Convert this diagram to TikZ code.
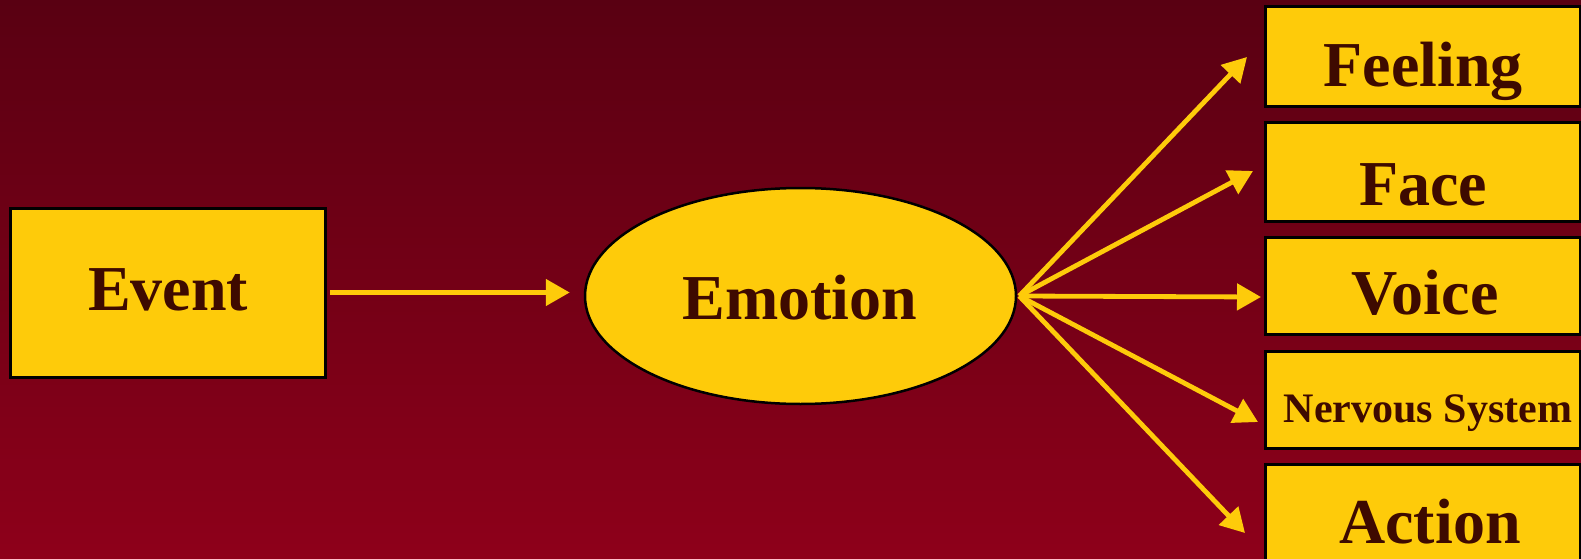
\documentclass[tikz,border=0pt]{standalone}
\usepackage{fontspec}
\setmainfont{Liberation Serif}
\usetikzlibrary{shapes.geometric,arrows.meta,calc}
\definecolor{bgtop}{HTML}{590012}
\definecolor{bgbot}{HTML}{8E001A}
\definecolor{boxyel}{HTML}{FECB0A}
\definecolor{txtbrown}{HTML}{3E0A00}
\tikzset{
  boxnode/.style={draw=black, line width=3pt, fill=boxyel, rectangle, inner sep=0pt},
  ovalnode/.style={draw=black, line width=2.5pt, fill=boxyel, ellipse, inner sep=0pt},
  bigtxt/.style={text=txtbrown, font=\fontsize{64}{70}\selectfont\bfseries, inner sep=0pt, anchor=base},
  smalltxt/.style={text=txtbrown, font=\fontsize{42}{48}\selectfont\bfseries, inner sep=0pt, anchor=base},
  conn/.style={draw=boxyel, line width=4.8pt, -{Triangle[length=24pt,width=26pt]}}
}
\begin{document}
\begin{tikzpicture}[x=1pt,y=-1pt]
\useasboundingbox (0,0) rectangle (1581,559);
\clip (0,0) rectangle (1581,559);
\shade[top color=bgtop, bottom color=bgbot] (0,0) rectangle (1581,559);
% nodes
\node[boxnode, minimum width=315pt, minimum height=169pt] (evt) at (168,292.5) {};
\node[bigtxt] (evtt) at (168,310.5) {Event};
\node[ovalnode, minimum width=431pt, minimum height=216pt] (emo) at (800.5,296) {};
\node[bigtxt] (emot) at (800,319) {Emotion};
\node[boxnode, minimum width=315pt, minimum height=100pt] (feel) at (1422.5,57) {};
\node[bigtxt] (feelt) at (1423,87) {Feeling};
\node[boxnode, minimum width=315pt, minimum height=98pt] (face) at (1422.5,172) {};
\node[bigtxt] (facet) at (1423,205) {Face};
\node[boxnode, minimum width=315pt, minimum height=97pt] (voice) at (1422.5,285.5) {};
\node[bigtxt] (voicet) at (1425,314) {Voice};
\node[boxnode, minimum width=315pt, minimum height=97pt] (nerv) at (1422.5,399.5) {};
\node[smalltxt] (nervt) at (1428,422) {Nervous System};
\node[boxnode, minimum width=315pt, minimum height=116pt] (act) at (1422.5,522) {};
\node[bigtxt] (actt) at (1430,543) {Action};
% arrow tips
\coordinate (tfeel) at (1247,57);
\coordinate (tface) at (1253,171);
\coordinate (tvoice) at (1261,297);
\coordinate (tnerv) at (1258,422);
\coordinate (tact) at (1245,533);
\coordinate (src) at ($(emo.east)+(2,0)$);
% connectors
\draw[conn, shorten <=3pt, shorten >=14pt] (evt.east) -- (evt.east -| emo.west);
\draw[conn] (src) -- (tfeel);
\draw[conn] (src) -- (tface);
\draw[conn] (src) -- (tvoice);
\draw[conn] (src) -- (tnerv);
\draw[conn] (src) -- (tact);
\end{tikzpicture}
\end{document}
